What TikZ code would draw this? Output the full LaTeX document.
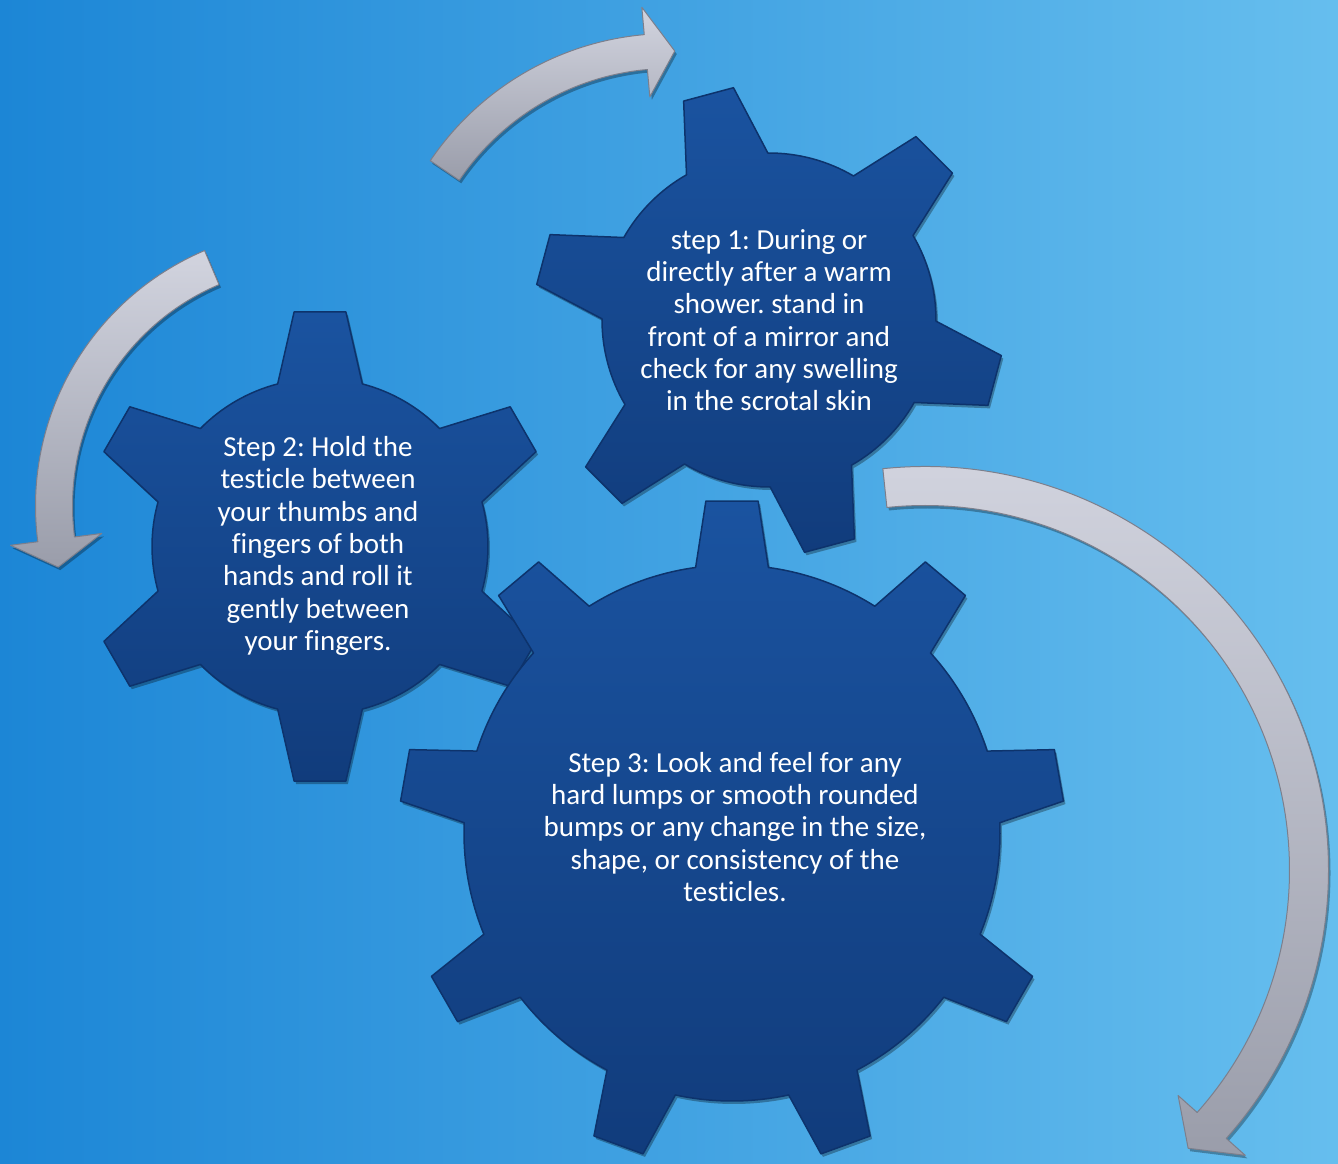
\documentclass[tikz,border=0pt]{standalone}
\usepackage{fontspec}
\setmainfont{Carlito}[Ligatures=NoCommon]
\usetikzlibrary{shadows}
\definecolor{bgdark}{HTML}{1C86D6}
\definecolor{bglight}{HTML}{66BEEE}
\definecolor{geartop}{HTML}{1A53A0}
\definecolor{gearbot}{HTML}{113C7C}
\definecolor{gearedge}{HTML}{0D336C}
\definecolor{arrtop}{HTML}{D2D4DF}
\definecolor{arrbot}{HTML}{9A9DAA}
\definecolor{arredge}{HTML}{7C7F8C}
\frenchspacing
\begin{document}
\begin{tikzpicture}[x=1pt, y=1pt,
	txt/.style={text=white, align=center, font=\fontsize{29}{32.3}\selectfont},
	gear/.style={top color=geartop, bottom color=gearbot, draw=gearedge, line width=1.5pt, line join=round,
		drop shadow={shadow xshift=2pt, shadow yshift=-3pt, opacity=0.3, fill=black}},
	arr/.style={top color=arrtop, bottom color=arrbot, draw=arredge, line width=1pt, line join=round,
		drop shadow={shadow xshift=2pt, shadow yshift=-3pt, opacity=0.3, fill=black}}]
	\useasboundingbox (0,0) rectangle (1338,1163);
	\shade[left color=bgdark, right color=bglight] (0,0) rectangle (1338,1163);
	% curved arrows
	\begin{scope}[shift={(670,840)}]
		\path[arr] (145.9:289.5) arc[start angle=145.9, end angle=95.1, radius=289.5] -- (95.1:317) -- (89:272)
			-- (95.1:227) -- (95.1:254.5) arc[start angle=95.1, end angle=145.9, radius=254.5] -- cycle;
	\end{scope}
	\begin{scope}[shift={(313,657)}]
		\path[arr] (113:277.5) arc[start angle=113, end angle=187.4, radius=277.5] -- (187.4:305) -- (193.5:262)
			-- (187.4:213) -- (187.4:240.5) arc[start angle=187.4, end angle=113, radius=240.5] -- cycle;
	\end{scope}
	\begin{scope}[shift={(925,293)}]
		\path[arr] (96:403.5) arc[start angle=96, end angle=-41.7, radius=403.5] -- (-41.7:429) -- (-46.6:383)
			-- (-41.7:339) -- (-41.7:364.5) arc[start angle=-41.7, end angle=96, radius=364.5] -- cycle;
	\end{scope}
	% gears
	\begin{scope}[shift={(769,843)}]
		\path[gear] ({105-14.6}:167) \foreach \a in {105,165,...,405} {
			-- ({\a-14.6}:167) -- ({\a-6.3}:235) -- ({\a+6.3}:235) -- ({\a+14.6}:167)
			arc[start angle=\a+14.6, end angle=\a+45.4, radius=167] } -- cycle;
	\end{scope}
	\begin{scope}[shift={(320,616.5)}]
		\path[gear] ({90-14.6}:168) \foreach \a in {90,150,...,390} {
			-- ({\a-14.6}:168) -- ({\a-6.3}:236) -- ({\a+6.3}:236) -- ({\a+14.6}:168)
			arc[start angle=\a+14.6, end angle=\a+45.4, radius=168] } -- cycle;
	\end{scope}
	\begin{scope}[shift={(732,330)}]
		\path[gear] ({90-7.8}:268) \foreach \a in {90,130,...,410} {
			-- ({\a-7.8}:268) -- ({\a-4.5}:333) -- ({\a+4.5}:333) -- ({\a+7.8}:268)
			arc[start angle=\a+7.8, end angle=\a+32.2, radius=268] } -- cycle;
	\end{scope}
	% step texts
	\node[txt] (step1) at (769,843) {step 1: During or\\directly after a warm\\shower. stand in\\front of a mirror and\\check for any swelling\\in the scrotal skin};
	\node[txt] (step2) at (318,617) {Step 2: Hold the\\testicle between\\your thumbs and\\fingers of both\\hands and roll it\\gently between\\your fingers.};
	\node[txt] (step3) at (735,336) {Step 3: Look and feel for any\\hard lumps or smooth rounded\\bumps or any change in the size,\\shape, or consistency of the\\testicles.};
\end{tikzpicture}
\end{document}
